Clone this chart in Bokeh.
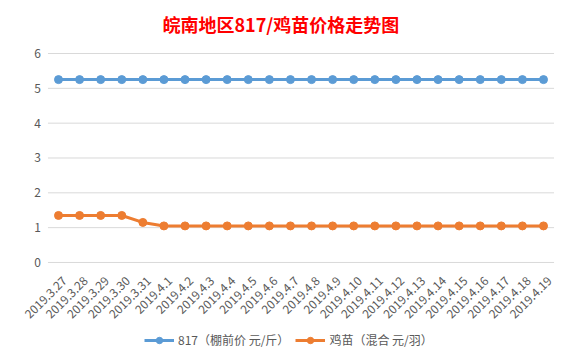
import math
from bokeh.plotting import figure
from bokeh.models import Legend, LegendItem, Range1d, ColumnDataSource
from bokeh.core.properties import value
from bokeh.embed import file_html
from bokeh.resources import INLINE

dates = ["2019.3.27", "2019.3.28", "2019.3.29", "2019.3.30", "2019.3.31",
         "2019.4.1", "2019.4.2", "2019.4.3", "2019.4.4", "2019.4.5", "2019.4.6",
         "2019.4.7", "2019.4.8", "2019.4.9", "2019.4.10", "2019.4.11", "2019.4.12",
         "2019.4.13", "2019.4.14", "2019.4.15", "2019.4.16", "2019.4.17",
         "2019.4.18", "2019.4.19"]
price_817 = [5.25] * 24
price_chick = [1.35, 1.35, 1.35, 1.35, 1.15] + [1.05] * 19
y_ticks = [0, 1, 2, 3, 4, 5, 6]
series_names = ["817（棚前价 元/斤）", "鸡苗（混合 元/羽）"]
title_text = "皖南地区817/鸡苗价格走势图"

FONT = "Noto Sans CJK SC"
GRAY = "#595959"

x_idx = list(range(len(dates)))
n = len(dates)

# scale: 21.087 px per category, 34.83 px per unit; frame covers labels + legend
FW, FH = 565, 312
PX_X, PX_Y = 21.087, 34.83
x0 = -58 / PX_X
y_end = y_ticks[-1] + 10 / PX_Y
p = figure(frame_width=FW, frame_height=FH,
           x_range=Range1d(x0, x0 + FW / PX_X),
           y_range=Range1d(y_end - FH / PX_Y, y_end), output_backend="svg",
           toolbar_location=None,
           min_border_left=0, min_border_right=0, min_border_top=43,
           min_border_bottom=0)

p.title.text = title_text
p.title.align = "left"
p.title.offset = 162
p.title.standoff = 14
p.title.text_color = "#ff0000"
p.title.text_font = FONT
p.title.text_font_size = "18px"
p.title.text_font_style = "bold"

p.outline_line_color = None
p.xaxis.visible = False
p.yaxis.visible = False
p.grid.visible = False

# horizontal gridlines over the category band
p.segment(x0=[x_idx[0] - 0.5] * len(y_ticks), x1=[x_idx[-1] + 0.5] * len(y_ticks),
          y0=y_ticks, y1=y_ticks, line_color="#d9d9d9", line_width=1)

# y tick labels
p.text(x=[x_idx[0] - 0.5] * len(y_ticks), y=y_ticks, text=[str(t) for t in y_ticks],
       x_offset=-7, text_align="right", text_baseline="middle",
       text_font=value(FONT), text_font_size="12px", text_color=GRAY)

# rotated category labels under the zero line
lab = ColumnDataSource(dict(x=x_idx, y=[y_ticks[0]] * n, t=dates))
p.text(x="x", y="y", text="t", source=lab, angle=math.pi / 4,
       text_align="right", text_baseline="middle", x_offset=6, y_offset=16,
       text_font=value(FONT), text_font_size="12px", text_color=GRAY)

blue = "#5b9bd5"
orange = "#ed7d31"
l1 = p.line(x_idx, price_817, line_color=blue, line_width=3)
c1 = p.scatter(x_idx, price_817, size=8, fill_color=blue, line_color=blue)
l2 = p.line(x_idx, price_chick, line_color=orange, line_width=3)
c2 = p.scatter(x_idx, price_chick, size=8, fill_color=orange, line_color=orange)

legend = Legend(items=[LegendItem(label=series_names[0], renderers=[l1, c1]),
                       LegendItem(label=series_names[1], renderers=[l2, c2])],
                orientation="horizontal", location=(144, 7),
                label_text_font=FONT, label_text_font_size="12px",
                label_text_color=GRAY, border_line_color=None,
                background_fill_alpha=0, glyph_width=30, glyph_height=16,
                label_standoff=4, spacing=6, margin=0, padding=0)
p.add_layout(legend, "center")

open("out.html", "w").write(file_html(p, INLINE))
